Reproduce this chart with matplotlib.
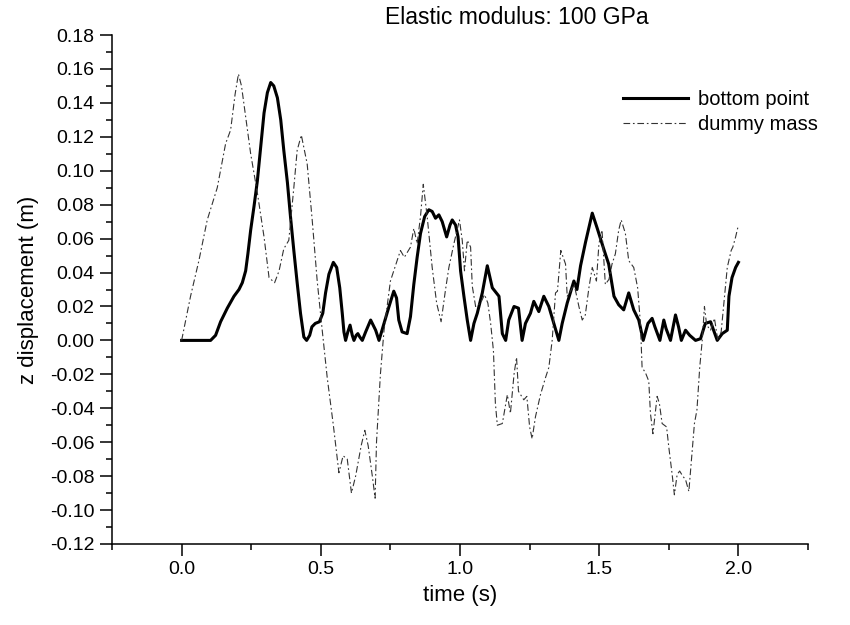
import numpy as np
import matplotlib
matplotlib.use('Agg')
import matplotlib.pyplot as plt
from matplotlib.ticker import MultipleLocator, FormatStrFormatter

plt.rcParams['font.family'] = ['Liberation Sans', 'DejaVu Sans']

# bottom point (thick solid line)
bottom_t = [0.0, 0.104, 0.122, 0.14, 0.164, 0.188, 0.206, 0.218, 0.23, 0.238,
            0.248, 0.26, 0.272, 0.284, 0.296, 0.308, 0.32, 0.331, 0.344, 0.356,
            0.367, 0.38, 0.391, 0.403, 0.415, 0.427, 0.439, 0.449, 0.46, 0.468,
            0.48, 0.495, 0.507, 0.517, 0.529, 0.545, 0.557, 0.568, 0.577, 0.583,
            0.589, 0.597, 0.605, 0.613, 0.619, 0.627, 0.633, 0.64, 0.649, 0.661,
            0.679, 0.697, 0.709, 0.727, 0.745, 0.762, 0.772, 0.78, 0.792, 0.81,
            0.822, 0.834, 0.846, 0.858, 0.873, 0.888, 0.90, 0.912, 0.924, 0.936,
            0.952, 0.964, 0.972, 0.984, 0.993, 1.002, 1.014,
            1.026, 1.038, 1.05, 1.062, 1.08, 1.098, 1.116, 1.14, 1.152, 1.164,
            1.175, 1.194, 1.21, 1.223, 1.235, 1.253, 1.265, 1.283, 1.301, 1.319,
            1.337, 1.355, 1.367, 1.385, 1.409, 1.42, 1.433, 1.451, 1.475, 1.493,
            1.516, 1.534, 1.553, 1.57, 1.588, 1.606, 1.624, 1.642, 1.658, 1.675,
            1.69, 1.70, 1.718, 1.732, 1.74, 1.756, 1.774, 1.785, 1.795, 1.81,
            1.825, 1.846, 1.864, 1.881, 1.90, 1.924, 1.942, 1.96, 1.966, 1.977,
            1.99, 2.0]
bottom_z = [0.0, 0.0, 0.003, 0.011, 0.019, 0.026, 0.030, 0.034, 0.041, 0.051,
            0.065, 0.079, 0.094, 0.114, 0.134, 0.146, 0.152, 0.150, 0.143, 0.130,
            0.112, 0.093, 0.073, 0.053, 0.034, 0.016, 0.002, 0.0, 0.003, 0.008,
            0.010, 0.011, 0.016, 0.028, 0.039, 0.046, 0.043, 0.031, 0.016, 0.005,
            0.0, 0.005, 0.009, 0.003, 0.0, 0.003, 0.004, 0.002, 0.0, 0.005,
            0.012, 0.006, 0.0, 0.010, 0.020, 0.029, 0.025, 0.012, 0.005, 0.004,
            0.014, 0.033, 0.049, 0.063, 0.073, 0.077, 0.076, 0.072, 0.074, 0.070,
            0.061, 0.068, 0.071, 0.068, 0.061, 0.041, 0.026,
            0.012, 0.0, 0.010, 0.016, 0.028, 0.044, 0.031, 0.026, 0.004, 0.0,
            0.012, 0.020, 0.019, 0.0, 0.010, 0.016, 0.023, 0.017, 0.026, 0.020,
            0.010, 0.0, 0.010, 0.022, 0.035, 0.030, 0.044, 0.058, 0.075, 0.066,
            0.054, 0.045, 0.026, 0.021, 0.018, 0.028, 0.018, 0.012, 0.0, 0.010,
            0.013, 0.008, 0.0, 0.012, 0.007, 0.0, 0.015, 0.008, 0.0, 0.006,
            0.003, 0.0, 0.001, 0.010, 0.011, 0.0, 0.004, 0.006, 0.026, 0.037,
            0.043, 0.046]

# dummy mass (thin dash-dot line)
dummy_t = [0.0, 0.032, 0.062, 0.092, 0.128, 0.158, 0.176, 0.192, 0.204, 0.215,
           0.23, 0.248, 0.272, 0.296, 0.314, 0.334, 0.35, 0.367, 0.385, 0.403,
           0.415, 0.43, 0.451, 0.469, 0.487, 0.505, 0.523, 0.545, 0.565, 0.58,
           0.595, 0.61, 0.625, 0.645, 0.658, 0.67, 0.685, 0.695, 0.70, 0.714,
           0.727, 0.75, 0.76, 0.786, 0.80, 0.822, 0.834, 0.846, 0.858, 0.868,
           0.882, 0.90, 0.916, 0.932, 0.948, 0.96, 0.978, 0.998, 1.008, 1.016,
           1.026, 1.038, 1.044, 1.056, 1.074, 1.088, 1.10, 1.11, 1.12, 1.127,
           1.134, 1.152, 1.17, 1.181, 1.194, 1.203, 1.21, 1.229, 1.24, 1.25,
           1.259, 1.271, 1.289, 1.307, 1.319, 1.331, 1.343, 1.35, 1.362, 1.379,
           1.385, 1.397, 1.41, 1.427, 1.439, 1.45, 1.463, 1.475, 1.49, 1.499,
           1.51, 1.522, 1.535, 1.546, 1.558, 1.57, 1.579, 1.594, 1.606, 1.624,
           1.638, 1.648, 1.654, 1.666, 1.678, 1.684, 1.693, 1.708, 1.716, 1.726,
           1.742, 1.75, 1.762, 1.770, 1.78, 1.789, 1.80, 1.81, 1.822, 1.83,
           1.842, 1.851, 1.861, 1.87, 1.878, 1.886, 1.90, 1.914, 1.926, 1.938,
           1.95, 1.96, 1.974, 1.98, 1.99, 2.0]
dummy_z = [0.0, 0.026, 0.047, 0.071, 0.090, 0.116, 0.124, 0.145, 0.157, 0.150,
           0.132, 0.110, 0.087, 0.061, 0.037, 0.034, 0.041, 0.054, 0.059, 0.090,
           0.112, 0.121, 0.104, 0.071, 0.035, 0.006, -0.022, -0.050, -0.078, -0.068,
           -0.070, -0.090, -0.080, -0.062, -0.053, -0.062, -0.080, -0.093, -0.060, -0.020,
           0.006, 0.035, 0.040, 0.053, 0.049, 0.055, 0.066, 0.057, 0.073, 0.092,
           0.073, 0.043, 0.022, 0.011, 0.030, 0.043, 0.057, 0.071, 0.059, 0.041,
           0.059, 0.055, 0.032, 0.020, 0.022, 0.027, 0.022, 0.010, -0.006, -0.037,
           -0.050, -0.049, -0.032, -0.043, -0.020, -0.010, -0.030, -0.035, -0.033, -0.051,
           -0.058, -0.045, -0.032, -0.022, -0.016, 0.0, 0.028, 0.029, 0.053, 0.045,
           0.026, 0.029, 0.033, 0.020, 0.012, 0.015, 0.031, 0.043, 0.035, 0.057,
           0.065, 0.033, 0.036, 0.045, 0.051, 0.065, 0.071, 0.063, 0.047, 0.043,
           0.031, 0.010, -0.016, -0.019, -0.024, -0.043, -0.055, -0.033, -0.037, -0.049,
           -0.051, -0.063, -0.079, -0.091, -0.079, -0.077, -0.080, -0.082, -0.089, -0.073,
           -0.049, -0.041, -0.016, 0.0, 0.020, 0.009, 0.006, 0.013, 0.0, 0.005,
           0.026, 0.043, 0.053, 0.055, 0.061, 0.068]

fig = plt.figure(figsize=(8.5, 6.25), dpi=100)
ax = fig.add_axes([0.1318, 0.1296, 0.8188, 0.8144])

ax.plot(bottom_t, bottom_z, color='black', lw=2.2, label='bottom point')
ax.plot(dummy_t, dummy_z, color='#333333', lw=0.8,
        linestyle=(0, (6, 2.5, 1.5, 2.5)), label='dummy mass')

ax.set_xlim(-0.25, 2.25)
ax.set_ylim(-0.12, 0.18)
ax.xaxis.set_major_locator(MultipleLocator(0.5))
ax.xaxis.set_minor_locator(MultipleLocator(0.25))
ax.xaxis.set_major_formatter(FormatStrFormatter('%.1f'))
ax.set_xticks([0.0, 0.5, 1.0, 1.5, 2.0])
ax.yaxis.set_major_locator(MultipleLocator(0.02))
ax.yaxis.set_minor_locator(MultipleLocator(0.01))
ax.yaxis.set_major_formatter(FormatStrFormatter('%.2f'))

for s in ['top', 'right']:
    ax.spines[s].set_visible(False)
for s in ['left', 'bottom']:
    ax.spines[s].set_linewidth(1.1)

ax.tick_params(which='major', direction='out', length=8.5, width=1.1,
               labelsize=14, pad=4)
ax.tick_params(which='minor', direction='out', length=4.3, width=1.1)

ax.set_xlabel('time (s)', fontsize=16, labelpad=5)
ax.set_ylabel('z displacement (m)', fontsize=16, labelpad=8)

fig.text(0.608, 1 - 18 / 625, 'Elastic modulus: 100 GPa', fontsize=16.5,
         ha='center', va='center')

ax.legend(loc='upper left', bbox_to_anchor=(623 / 850, 1 - 90 / 625),
          bbox_transform=fig.transFigure, frameon=False, fontsize=14.5,
          handlelength=3.25, handletextpad=0.45, borderpad=0,
          borderaxespad=0, labelspacing=0.3)

fig.savefig('out.png', dpi=100)
